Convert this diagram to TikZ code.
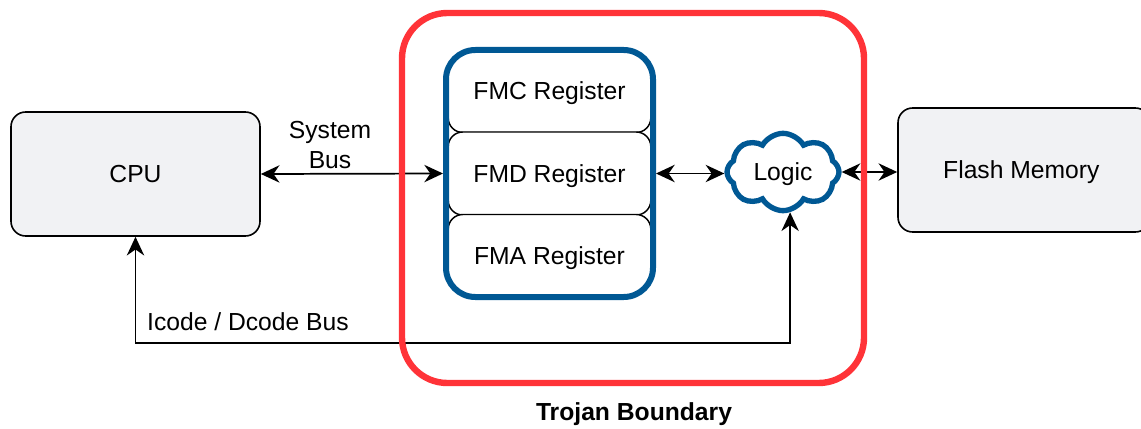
\documentclass[tikz,border=0pt]{standalone}
\usepackage{fontspec}
\setmainfont{Liberation Sans}
\usetikzlibrary{arrows.meta,shapes.symbols}

\definecolor{boundred}{RGB}{255,51,56}
\definecolor{regblue}{RGB}{0,88,148}
\definecolor{boxgray}{RGB}{241,242,244}

\tikzset{
  >={Stealth[length=14pt,width=13pt,inset=4.5pt]},
  txt/.style={font=\fontsize{18.5}{22}\selectfont, inner sep=0pt},
  lbl/.style={txt, align=center},
  unitbox/.style={txt, draw=black, fill=boxgray, line width=1.2pt, rounded corners=11pt,
    minimum width=186.75pt, minimum height=93pt, text depth=0pt},
  regcell/.style={txt, draw=black, fill=white, line width=1.1pt, rounded corners=11pt,
    minimum width=152pt, minimum height=62.25pt, text depth=0pt},
  bus/.style={line width=1.3pt, <->},
}

\begin{document}
\begin{tikzpicture}[x=0.75pt,y=0.75pt,yscale=-1,xscale=1]
\useasboundingbox (0,0) rectangle (1141,428);
\clip (0,0) rectangle (1141,428);

% CPU and flash
\node [unitbox] (cpu) at (135.5,174) {CPU};
\node [unitbox, minimum width=189pt] (flash) at (1024,170) {\hspace*{-2pt}Flash Memory\hspace*{2pt}};

% register stack
\begin{scope}
\clip [rounded corners=22pt] (446,50) rectangle (653,297);
\node [regcell] (fmc) at (549.5,91) {FMC Register};
\node [regcell] (fmd) at (549.5,173.5) {FMD Register};
\node [regcell] (fma) at (549.5,256) {FMA Register};
\end{scope}
\node [draw=regblue, line width=4.5pt, rounded corners=22pt, minimum width=155.25pt,
  minimum height=185.25pt, inner sep=0pt] (regs) at (549.5,173.5) {};

% logic cloud
\node [txt, text depth=0pt, cloud, cloud puffs=8, cloud puff arc=120, aspect=1.5, draw=regblue, fill=white,
  line width=4pt, minimum width=84pt, minimum height=58pt] (logic) at (783,172) {Logic};

% buses
\draw [bus] (cpu.east) -- (regs.west);
\draw [bus] (regs.east) -- (regs.east -| logic.west);
\draw [bus] (logic.east) -- (logic.east -| flash.west);
\coordinate (ibus) at (0,343);
\draw [bus] (cpu.south) -- (cpu.south |- ibus) -| (logic.-80);

\node [lbl] (sysbus) at (330,145) {System\\Bus};
\node [lbl] (icode) at (248,322) {Icode / Dcode Bus};

% trojan boundary
\node [draw=boundred, line width=4.8pt, rounded corners=34pt, minimum width=346.5pt,
  minimum height=277.5pt, inner sep=0pt] (trojan) at (633,198) {};
\node [lbl, font=\fontsize{18.5}{22}\selectfont\bfseries] (trojanlbl) at (634,414) {Trojan Boundary};

\end{tikzpicture}
\end{document}
